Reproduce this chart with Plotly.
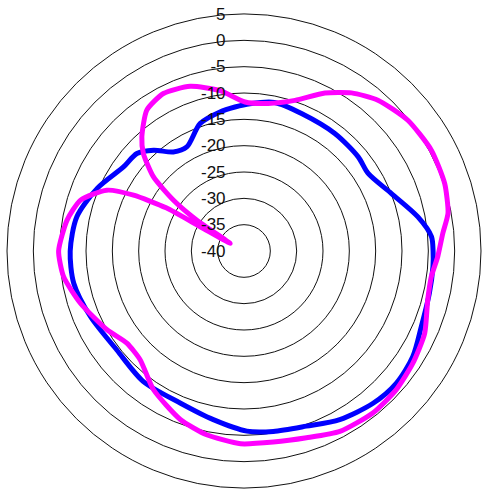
import plotly.graph_objects as go

# angles in degrees, clockwise from top; values in dB
blue_theta = [2.3, 11.6, 22.7, 37.7, 50.5, 58.0, 68.7, 78.9, 85.6, 90.0, 94.7, 102.8,
              113.1, 122.0, 130.9, 139.7, 150.4, 160.4, 170.8, 179.1, 190.3, 202.8,
              217.6, 232.1, 246.9, 259.3, 270.0, 281.6, 293.1, 304.9, 312.3, 318.1,
              324.5, 331.2, 341.0, 350.2, 356.4, 362.3]
blue_r = [-12.0, -11.2, -11.7, -11.8, -11.9, -12.2, -9.95, -6.35, -4.3, -4.1, -4.0, -3.9,
          -3.4, -2.2, -1.7, -2.1, -3.2, -4.7, -5.3, -5.8, -7.45, -8.7,
          -8.7, -9.4, -8.3, -7.1, -7.0, -7.6, -9.7, -12.1, -12.5, -14.3,
          -16.9, -17.45, -14.4, -13.2, -12.6, -12.0]

mag_theta = [0.4, 9.3, 18.7, 27.1, 34.2, 41.6, 51.4, 61.7, 71.4, 79.5, 84.9, 91.7,
             97.8, 104.9, 114.5, 123.6, 132.3, 141.5, 152.0, 161.5, 171.3, 181.0,
             191.5, 200.7, 213.1, 223.7, 231.8, 240.1, 252.3, 261.9, 270.0, 279.9,
             287.3, 293.9, 296.8, 299.0, 299.0, 298.8, 303.2, 305.8, 309.3, 314.1,
             318.2, 325.4, 332.9, 341.9, 351.5, 360.4]
mag_r = [-11.7, -11.6, -9.8, -6.3, -3.7, -1.7, -0.2, 0.4, 0.2, -0.6, -2.1, -3.2,
         -4.1, -3.9, -2.3, -1.5, -0.9, -0.7, -1.2, -2.6, -3.3, -3.4,
         -4.4, -5.8, -8.55, -11.45, -11.7, -10.0, -7.4, -5.4, -4.8, -5.9,
         -7.5, -11.5, -16.5, -23.1, -30.5, -37.0, -29.3, -23.5, -17.8, -13.4,
         -10.9, -7.5, -6.4, -7.1, -9.2, -11.7]

radial_ticks = [-40, -35, -30, -25, -20, -15, -10, -5, 0, 5]

fig = go.Figure()
fig.add_trace(go.Scatterpolar(theta=blue_theta, r=blue_r, mode="lines",
                              line=dict(color="#0000FF", width=5, shape="spline", smoothing=0.8),
                              showlegend=False))
fig.add_trace(go.Scatterpolar(theta=mag_theta, r=mag_r, mode="lines",
                              line=dict(color="#FF00FF", width=5, shape="spline", smoothing=0.6),
                              showlegend=False))

fig.update_layout(
    width=482, height=490,
    margin=dict(l=7, r=1, t=14, b=2),
    paper_bgcolor="white",
    polar=dict(
        bgcolor="white",
        radialaxis=dict(range=[-40, 5], tickvals=radial_ticks, ticktext=[str(v) for v in radial_ticks],
                        angle=90, tickangle=90, side="counterclockwise", showline=False,
                        gridcolor="#111111", gridwidth=1,
                        ticks="outside", ticklen=12, tickcolor="rgba(0,0,0,0)",
                        tickfont=dict(family="Liberation Sans", size=17, color="#111111")),
        angularaxis=dict(rotation=90, direction="clockwise", showgrid=False,
                         showticklabels=False, ticks="", showline=True,
                         linecolor="#111111", linewidth=1),
    ),
)

fig.write_html("out.html", config={"displayModeBar": False},
               post_script="document.body.style.margin='0';document.body.style.overflow='hidden';")
